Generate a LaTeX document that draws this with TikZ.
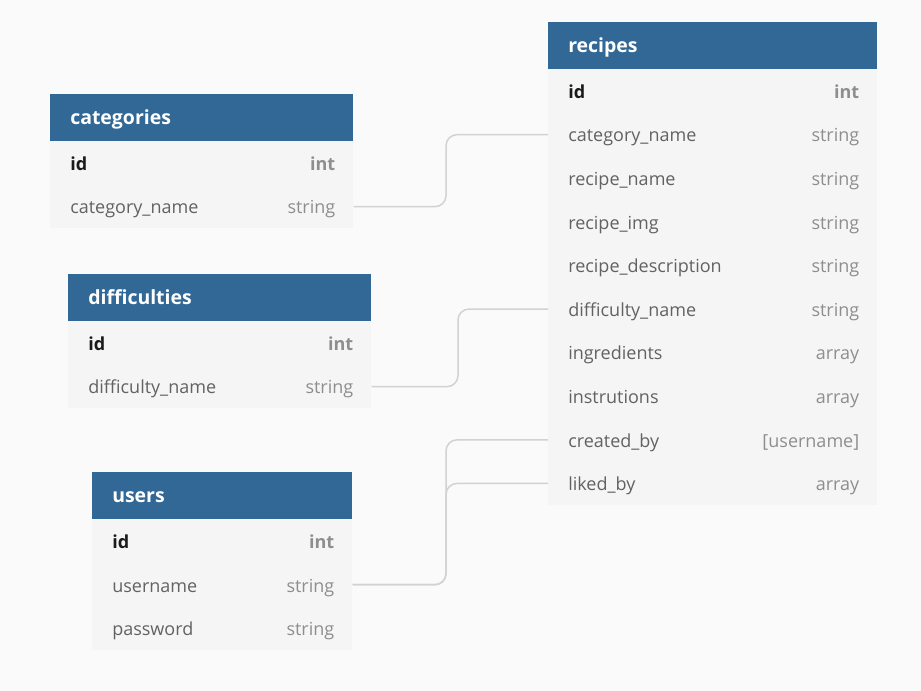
\documentclass[tikz,border=0pt]{standalone}
\usepackage{fontspec}
\setmainfont{Open Sans}
\definecolor{bgc}{HTML}{FAFAFA}
\definecolor{bodyc}{HTML}{F5F5F5}
\definecolor{hdrblue}{HTML}{316896}
\definecolor{fieldc}{HTML}{626262}
\definecolor{typec}{HTML}{8E8E8E}
\definecolor{keyc}{HTML}{1A1A1A}
\definecolor{connc}{HTML}{D2D2D2}
\def\px{0.75pt}
\newcommand\erdhead[5]{%
  \node[hdrbox, minimum width=#4*\px, text width=#4*\px-40*\px] (#1) at (#2,#3) {#5};}
\newcommand\erdrow[6]{%
  \node[rowbox, minimum width=#4*\px, text width=#4*\px-36*\px] (#1) at (#2,#3)
    {\hspace*{1.5pt}\textcolor{fieldc}{#5}\hfill\textcolor{typec}{#6}};}
\newcommand\erdkey[6]{%
  \node[rowbox, minimum width=#4*\px, text width=#4*\px-36*\px, font=\rowfont\bfseries] (#1) at (#2,#3)
    {\hspace*{1.5pt}\textcolor{keyc}{#5}\hfill\textcolor{typec}{#6}};}
\newcommand\rowfont{\fontsize{13.5}{16}\selectfont}
\begin{document}
\begin{tikzpicture}[x=0.75pt,y=-0.75pt,
  hdrbox/.style={anchor=north west, rectangle, fill=hdrblue, text=white,
    minimum height=47*\px, inner xsep=20*\px, inner ysep=0pt, align=left,
    text height=13.8pt, text depth=3pt,
    font=\fontsize{14.6}{17}\selectfont\bfseries},
  rowbox/.style={anchor=north west, rectangle, fill=bodyc,
    minimum height=43.6*\px, inner xsep=18*\px, inner ysep=0pt, align=left,
    text height=14pt, text depth=3pt,
    font=\rowfont},
  conn/.style={draw=connc, line width=1.5*\px, rounded corners=11*\px}]
\fill[bgc] (0,0) rectangle (921,691);
\useasboundingbox (0,0) rectangle (921,691);
% categories
\erdhead{cat}{50}{94}{303}{categories}
\erdkey{cat1}{50}{141}{303}{id}{int}
\erdrow{cat2}{50}{184.6}{303}{category\_name}{string}
% difficulties
\erdhead{dif}{68}{274}{303}{difficulties}
\erdkey{dif1}{68}{321}{303}{id}{int}
\erdrow{dif2}{68}{364.6}{303}{difficulty\_name}{string}
% users
\erdhead{usr}{92}{472}{260}{users}
\erdkey{usr1}{92}{519}{260}{id}{int}
\erdrow{usr2}{92}{562.6}{260}{username}{string}
\erdrow{usr3}{92}{606.2}{260}{password}{string}
% recipes
\erdhead{rec}{548}{22}{329}{recipes}
\erdkey{rec1}{548}{69}{329}{id}{int}
\erdrow{rec2}{548}{112.6}{329}{category\_name}{string}
\erdrow{rec3}{548}{156.2}{329}{recipe\_name}{string}
\erdrow{rec4}{548}{199.8}{329}{recipe\_img}{string}
\erdrow{rec5}{548}{243.4}{329}{recipe\_description}{string}
\erdrow{rec6}{548}{287.0}{329}{difficulty\_name}{string}
\erdrow{rec7}{548}{330.6}{329}{ingredients}{array}
\erdrow{rec8}{548}{374.2}{329}{instrutions}{array}
\erdrow{rec9}{548}{417.8}{329}{created\_by}{[username]}
\erdrow{rec10}{548}{461.4}{329}{liked\_by}{array}
% connectors
\coordinate (va) at (446,0);
\coordinate (vb) at (458,0);
\draw[conn] (cat2.east) -- (va |- cat2.east) -- (va |- rec2.west) -- (rec2.west);
\draw[conn] (dif2.east) -- (vb |- dif2.east) -- (vb |- rec6.west) -- (rec6.west);
\draw[conn] (usr2.east) -- (va |- usr2.east) -- (va |- rec9.west) -- (rec9.west);
\draw[conn] (usr2.east) -- (va |- usr2.east) -- (va |- rec10.west) -- (rec10.west);
\end{tikzpicture}
\end{document}
